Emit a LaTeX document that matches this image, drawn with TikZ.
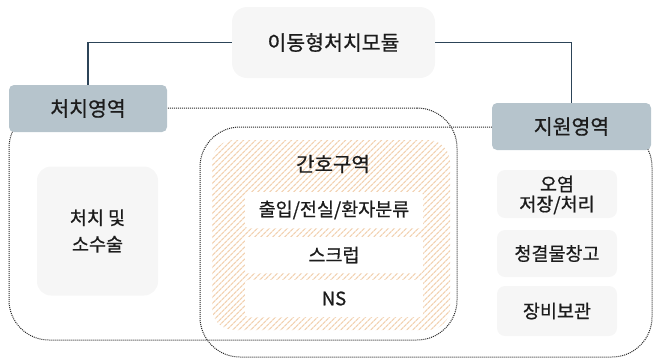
\documentclass[tikz,border=0pt]{standalone}
\usepackage{fontspec}
\setmainfont{Noto Sans CJK KR}[FakeBold=0.7]
\usetikzlibrary{patterns.meta}
\definecolor{hdr}{RGB}{182,196,204}
\definecolor{lightbox}{RGB}{246,246,246}
\definecolor{conn}{RGB}{44,68,88}
\definecolor{dotc}{RGB}{40,40,40}
\definecolor{hatchc}{RGB}{242,210,178}
\definecolor{txt}{RGB}{28,28,28}
\begin{document}
\begin{tikzpicture}[x=1pt,y=-1pt,
  base/.style={rectangle, inner sep=0pt, align=center, text=txt},
  region/.style={base, draw=dotc, densely dotted, line width=1pt, rounded corners=40pt},
  header/.style={base, fill=hdr, rounded corners=5pt, font=\fontsize{20.5}{24}\selectfont},
  topbox/.style={base, fill=lightbox, rounded corners=15pt, font=\fontsize{20.5}{24}\selectfont},
  subbox/.style={base, fill=lightbox, rounded corners=8pt, font=\fontsize{18.5}{20}\selectfont},
  hatchbox/.style={base, rounded corners=22pt, pattern={Lines[angle=45,distance=4pt,line width=1.3pt]}, pattern color=hatchc},
  rowbox/.style={base, fill=white, rounded corners=3pt, font=\fontsize{18.5}{22}\selectfont},
  link/.style={draw=conn, line width=1.4pt}
]
\useasboundingbox (0,0) rectangle (658,360);
% regions
\node[region, minimum width=448pt, minimum height=232pt] (reg1) at (233,224) {};
\node[region, minimum width=452pt, minimum height=230pt] (reg2) at (426,242) {};
% top module
\node[topbox, minimum width=203pt, minimum height=71pt] (top) at (333.5,42.5) {이동형처치모듈};
% headers
\node[header, minimum width=158pt, minimum height=47pt] (left) at (88,108.5) {처치영역};
\node[header, minimum width=159pt, minimum height=47pt] (right) at (571.5,126.5) {지원영역};
% connectors
\draw[link] (top.west) -| (left.north);
\draw[link] (top.east) -| (right.north);
% left content
\node[subbox, rounded corners=14pt, minimum width=121pt, minimum height=129pt, font=\fontsize{18.5}{26.5}\selectfont] (treat) at (97.5,231) {처치 및\\소수술};
% middle hatched area
\node[hatchbox, minimum width=238pt, minimum height=190pt] (care) at (331,235) {};
\node[base, font=\fontsize{20}{24}\selectfont] (caretitle) at (333,164) {간호구역};
\node[rowbox, minimum width=178pt, minimum height=36pt] (row1) at (334,210) {출입/전실/환자분류};
\node[rowbox, minimum width=178pt, minimum height=36pt] (row2) at (334,255) {스크럽};
\node[rowbox, minimum width=178pt, minimum height=37pt] (row3) at (334,298.5) {NS};
% right content
\node[subbox, minimum width=120pt, minimum height=48pt] (sup1) at (557,194) {};
\node[base, font=\fontsize{18.5}{20}\selectfont] (sup1t) at (557,195) {오염\\저장/처리};
\node[subbox, minimum width=120pt, minimum height=47pt] (sup2) at (557,253.5) {청결물창고};
\node[subbox, minimum width=120pt, minimum height=50pt] (sup3) at (557,311) {장비보관};
\end{tikzpicture}
\end{document}
